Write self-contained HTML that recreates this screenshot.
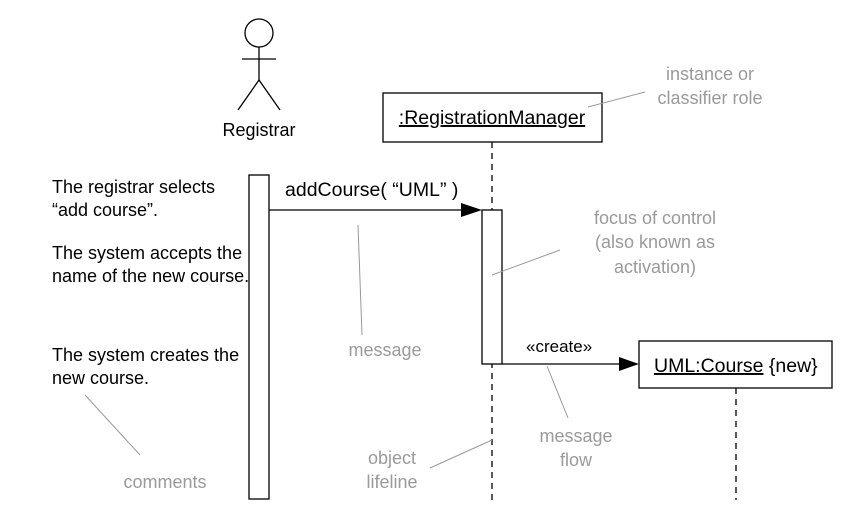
<!DOCTYPE html>
<html><head><style>body{margin:0;background:#fff}</style></head><body>
<svg width="856" height="523" xmlns="http://www.w3.org/2000/svg" font-family="Liberation Sans, Arial, sans-serif" font-size="18">
<rect width="856" height="523" fill="#fff"/>
<g stroke="#000" stroke-width="1.3" fill="none">
<circle cx="259" cy="33" r="14"/>
<line x1="259" y1="47" x2="259" y2="80"/>
<line x1="242" y1="59" x2="276" y2="59"/>
<line x1="259" y1="80" x2="238" y2="110"/>
<line x1="259" y1="80" x2="280" y2="110"/>
<line x1="492" y1="142" x2="492" y2="500" stroke-dasharray="6,5"/>
<rect x="383" y="93" width="219" height="49" fill="#fff"/>
<rect x="249" y="175" width="20" height="324" fill="#fff"/>
<rect x="482" y="210" width="20" height="154" fill="#fff"/>
<line x1="269" y1="210" x2="462" y2="210"/>
<line x1="502" y1="364" x2="620" y2="364"/>
<line x1="736" y1="388" x2="736" y2="500" stroke-dasharray="6,5"/>
<rect x="639" y="341" width="193" height="47" fill="#fff"/>
</g>
<polygon points="461,203 482,210 461,217" fill="#000"/>
<polygon points="619,357 639,364 619,371" fill="#000"/>
<g stroke="#999" stroke-width="1">
<line x1="588" y1="107" x2="645" y2="92"/>
<line x1="358" y1="225" x2="362" y2="335"/>
<line x1="492" y1="275" x2="560" y2="250"/>
<line x1="547" y1="366" x2="568" y2="418"/>
<line x1="492" y1="440" x2="430" y2="468"/>
<line x1="85" y1="395" x2="140" y2="455"/>
</g>
<g fill="#000">
<text x="259" y="136" text-anchor="middle">Registrar</text>
<text x="492" y="124" text-anchor="middle" text-decoration="underline" font-size="19.5">:RegistrationManager</text>
<text x="285" y="196" font-size="19.5">addCourse( “UML” )</text>
<text x="526" y="352" font-size="17">«create»</text>
<text x="654" y="372" font-size="19.5"><tspan text-decoration="underline">UML:Course</tspan> {new}</text>
<text x="52" y="193">The registrar selects</text>
<text x="52" y="216">“add course”.</text>
<text x="52" y="259">The system accepts the</text>
<text x="52" y="282">name of the new course.</text>
<text x="52" y="361">The system creates the</text>
<text x="52" y="384">new course.</text>
</g>
<g fill="#9a9a9a" text-anchor="middle">
<text x="710" y="80">instance or</text>
<text x="710" y="104">classifier role</text>
<text x="655" y="224">focus of control</text>
<text x="655" y="248">(also known as</text>
<text x="655" y="273">activation)</text>
<text x="385" y="356">message</text>
<text x="576" y="442">message</text>
<text x="576" y="466">flow</text>
<text x="392" y="464">object</text>
<text x="392" y="488">lifeline</text>
<text x="165" y="488">comments</text>
</g>
</svg>
</body></html>
